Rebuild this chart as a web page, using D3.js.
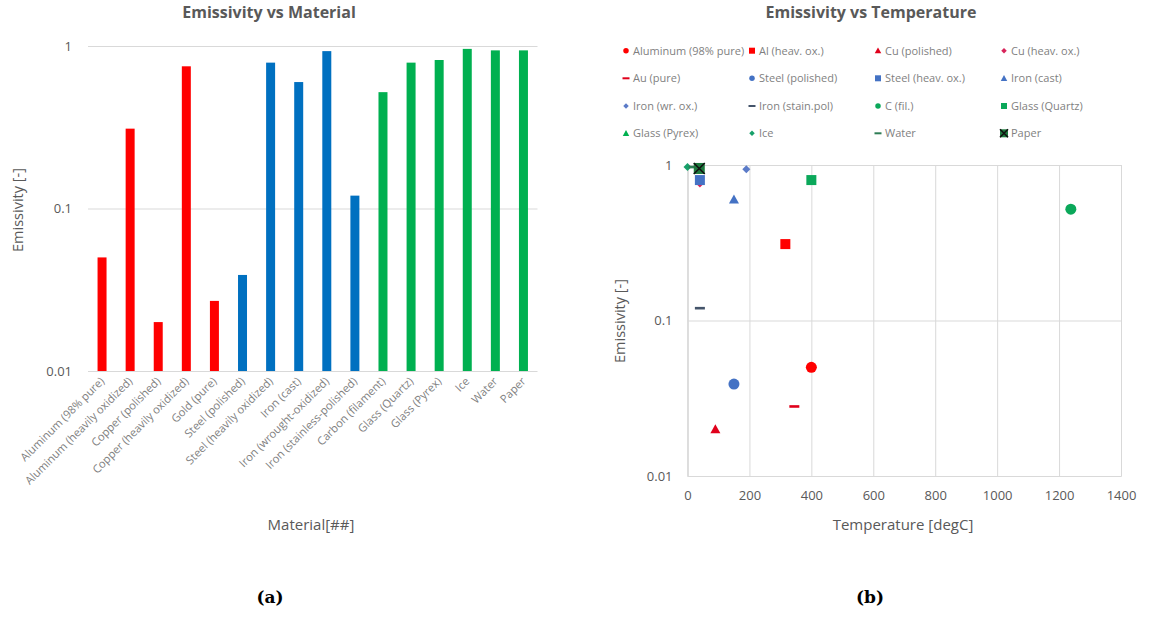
<!DOCTYPE html>
<html><head><meta charset="utf-8">
<script src="https://cdn.jsdelivr.net/npm/d3@7"></script>
<style>
body{margin:0;background:#fff;}
svg{display:block;font-family:"Open Sans",sans-serif;}
</style>
</head><body>
<svg id="c" width="1157" height="617"></svg>
<script>
// ---------- Data: panel (a) ----------
const materials = ["Aluminum (98% pure)", "Aluminum (heavily oxidized)", "Copper (polished)", "Copper (heavily oxidized)", "Gold (pure)", "Steel (polished)", "Steel (heavily oxidized)", "Iron (cast)", "Iron (wrought-oxidized)", "Iron (stainless-polished)", "Carbon (filament)", "Glass (Quartz)", "Glass (Pyrex)", "Ice", "Water", "Paper"];
const emissivity = [0.05, 0.31, 0.02, 0.75, 0.027, 0.039, 0.79, 0.6, 0.93, 0.12, 0.52, 0.79, 0.82, 0.96, 0.94, 0.94];
const materialGroup = ["nonferrous","nonferrous","nonferrous","nonferrous","nonferrous","ferrous","ferrous","ferrous","ferrous","ferrous","nonmetal","nonmetal","nonmetal","nonmetal","nonmetal","nonmetal"];
const yTicksA = [0.01, 0.1, 1];

// ---------- Data: panel (b) ----------
const seriesNames = ["Aluminum (98% pure)", "Al (heav. ox.)", "Cu (polished)", "Cu (heav. ox.)", "Au (pure)", "Steel (polished)", "Steel (heav. ox.)", "Iron (cast)", "Iron (wr. ox.)", "Iron (stain.pol)", "C (fil.)", "Glass (Quartz)", "Glass (Pyrex)", "Ice", "Water", "Paper"];
const temperatures = [400, 316, 90, 40, 345, 150, 40, 150, 190, 40, 1238, 400, 38, 0, 20, 38];
const seriesValues = [0.05, 0.31, 0.02, 0.76, 0.028, 0.039, 0.8, 0.6, 0.94, 0.12, 0.52, 0.8, 0.95, 0.97, 0.97, 0.95];
const xTicksB = [0, 200, 400, 600, 800, 1000, 1200, 1400];
const yTicksB = [0.01, 0.1, 1];

// ---------- Styles ----------
const groupColor = {nonferrous:"#FF0000", ferrous:"#0070C0", nonmetal:"#00B050"};
const seriesStyle = [
  {shape:"circle", color:"#FF0000"},
  {shape:"square", color:"#FF0000"},
  {shape:"triangle", color:"#E0001B"},
  {shape:"diamond", color:"#D8245A"},
  {shape:"dash", color:"#E0001B"},
  {shape:"circle", color:"#4472C4"},
  {shape:"square", color:"#4472C4"},
  {shape:"triangle", color:"#4472C4"},
  {shape:"diamond", color:"#5B7BC8"},
  {shape:"dash", color:"#44546A"},
  {shape:"circle", color:"#0BA85A"},
  {shape:"square", color:"#0BA85A"},
  {shape:"triangle", color:"#00B050"},
  {shape:"diamond", color:"#17A06A"},
  {shape:"dash", color:"#2E7D55"},
  {shape:"xsquare", color:"#1E7A3E"}
];
const axisText = "#595959", gridColor = "#d9d9d9", lightText = "#7f7f7f";

const svg = d3.select("#c");

function drawMarker(g, shape, s, color){
  if(shape==="circle"){
    g.append("circle").attr("r", s/2).attr("fill", color);
  } else if(shape==="square"){
    g.append("rect").attr("x",-s/2).attr("y",-s/2).attr("width",s).attr("height",s).attr("fill",color);
  } else if(shape==="triangle"){
    g.append("path").attr("d", `M0,${-s*0.5}L${s/2},${s*0.4}L${-s/2},${s*0.4}Z`).attr("fill",color);
  } else if(shape==="diamond"){
    g.append("path").attr("d", `M0,${-s/2}L${s/2},0L0,${s/2}L${-s/2},0Z`).attr("fill",color);
  } else if(shape==="dash"){
    g.append("rect").attr("x",-s/2).attr("y",-Math.max(1,s*0.13)).attr("width",s).attr("height",Math.max(2,s*0.26)).attr("fill",color);
  } else if(shape==="xsquare"){
    g.append("rect").attr("x",-s/2).attr("y",-s/2).attr("width",s).attr("height",s).attr("fill",color);
    g.append("path").attr("d",`M${-s/2},${-s/2}L${s/2},${s/2}M${s/2},${-s/2}L${-s/2},${s/2}`).attr("stroke","#111").attr("stroke-width",1.6);
  }
}

// ================= Panel (a) =================
const A = {left:88, right:537.5, top:46, bottom:371};
const xA = d3.scaleBand().domain(materials).range([A.left, A.right]).paddingInner(0.68).paddingOuter(0.34);
const yA = d3.scaleLog().domain([0.01, 1]).range([A.bottom, A.top]);

const gA = svg.append("g");
const yAxisA = d3.axisLeft(yA).tickValues(yTicksA).tickFormat(d3.format("~g"))
  .tickSize(-(A.right - A.left)).tickPadding(16);
gA.append("g").attr("transform",`translate(${A.left},0)`).call(yAxisA)
  .call(g=>g.select(".domain").remove())
  .call(g=>g.selectAll(".tick line").attr("stroke",gridColor).attr("stroke-width",1))
  .call(g=>g.selectAll(".tick text").attr("fill",axisText).attr("font-size",13).attr("font-family","Open Sans"));

gA.selectAll("rect.bar").data(materials).join("rect").attr("class","bar")
  .attr("x", d=>xA(d)).attr("width", xA.bandwidth())
  .attr("y", (d,i)=>yA(emissivity[i])).attr("height",(d,i)=>A.bottom - yA(emissivity[i]))
  .attr("fill",(d,i)=>groupColor[materialGroup[i]]);

gA.selectAll("text.xl").data(materials).join("text").attr("class","xl")
  .attr("transform", d=>`translate(${xA(d)+xA.bandwidth()/2+3},${A.bottom+11}) rotate(-45)`)
  .attr("text-anchor","end").attr("font-size",11.2).attr("fill",lightText)
  .text(d=>d);

gA.append("text").attr("x",269).attr("y",18).attr("text-anchor","middle")
  .attr("font-size",16).attr("font-weight","bold").attr("fill",axisText).text("Emissivity vs Material");
gA.append("text").attr("transform","translate(23,210) rotate(-90)").attr("text-anchor","middle")
  .attr("font-size",14.5).attr("fill",axisText).text("Emissivity [-]");
gA.append("text").attr("x",311).attr("y",530).attr("text-anchor","middle")
  .attr("font-size",15).attr("fill",axisText).text("Material[##]");

// ================= Panel (b) =================
const B = {left:687.5, right:1121, top:165, bottom:476};
const xB = d3.scaleLinear().domain([0,1400]).range([B.left, B.right]);
const yB = d3.scaleLog().domain([0.01,1]).range([B.bottom, B.top]);
const gB = svg.append("g");

gB.append("g").attr("transform",`translate(0,${B.bottom})`)
  .call(d3.axisBottom(xB).tickValues(xTicksB).tickFormat(d3.format("d")).tickSize(-(B.bottom-B.top)).tickPadding(15))
  .call(g=>g.select(".domain").attr("stroke",gridColor))
  .call(g=>g.selectAll(".tick line").attr("stroke",gridColor))
  .call(g=>g.selectAll(".tick text").attr("fill",axisText).attr("font-size",13).attr("font-family","Open Sans"));
gB.append("g").attr("transform",`translate(${B.left},0)`)
  .call(d3.axisLeft(yB).tickValues(yTicksB).tickFormat(d3.format("~g")).tickSize(-(B.right-B.left)).tickPadding(15))
  .call(g=>g.select(".domain").attr("stroke",gridColor))
  .call(g=>g.selectAll(".tick line").attr("stroke",gridColor))
  .call(g=>g.selectAll(".tick text").attr("fill",axisText).attr("font-size",13).attr("font-family","Open Sans"));

const plotSize = {circle:11, square:10, triangle:10, diamond:8, dash:10, xsquare:11};
seriesNames.forEach((n,i)=>{
  const st = seriesStyle[i];
  const g = gB.append("g").attr("transform",`translate(${xB(temperatures[i])},${yB(seriesValues[i])})`);
  drawMarker(g, st.shape, plotSize[st.shape], st.color);
});

// legend
const legX = [626, 752, 878, 1004], legY = [50.7, 78.3, 106, 133.3];
const legSize = {circle:5.5, square:6, triangle:6.5, diamond:5.5, dash:7, xsquare:8};
seriesNames.forEach((n,i)=>{
  const st = seriesStyle[i];
  const cx = legX[i%4], cy = legY[Math.floor(i/4)];
  const g = gB.append("g").attr("transform",`translate(${cx},${cy})`);
  drawMarker(g, st.shape, legSize[st.shape], st.color);
  gB.append("text").attr("x",cx+7).attr("y",cy+3.8).attr("font-size",11).attr("fill",lightText).text(n);
});

gB.append("text").attr("x",871).attr("y",18).attr("text-anchor","middle")
  .attr("font-size",16).attr("font-weight","bold").attr("fill",axisText).text("Emissivity vs Temperature");
gB.append("text").attr("transform","translate(625,321) rotate(-90)").attr("text-anchor","middle")
  .attr("font-size",14.5).attr("fill",axisText).text("Emissivity [-]");
gB.append("text").attr("x",903).attr("y",530).attr("text-anchor","middle")
  .attr("font-size",15).attr("fill",axisText).text("Temperature [degC]");

// sub-captions
svg.append("text").attr("x",270).attr("y",603).attr("text-anchor","middle")
  .attr("font-family","'DejaVu Serif', serif").attr("font-weight","bold").attr("font-size",17).attr("fill","#000").text("(a)");
svg.append("text").attr("x",870).attr("y",603).attr("text-anchor","middle")
  .attr("font-family","'DejaVu Serif', serif").attr("font-weight","bold").attr("font-size",17).attr("fill","#000").text("(b)");
</script>
</body></html>
